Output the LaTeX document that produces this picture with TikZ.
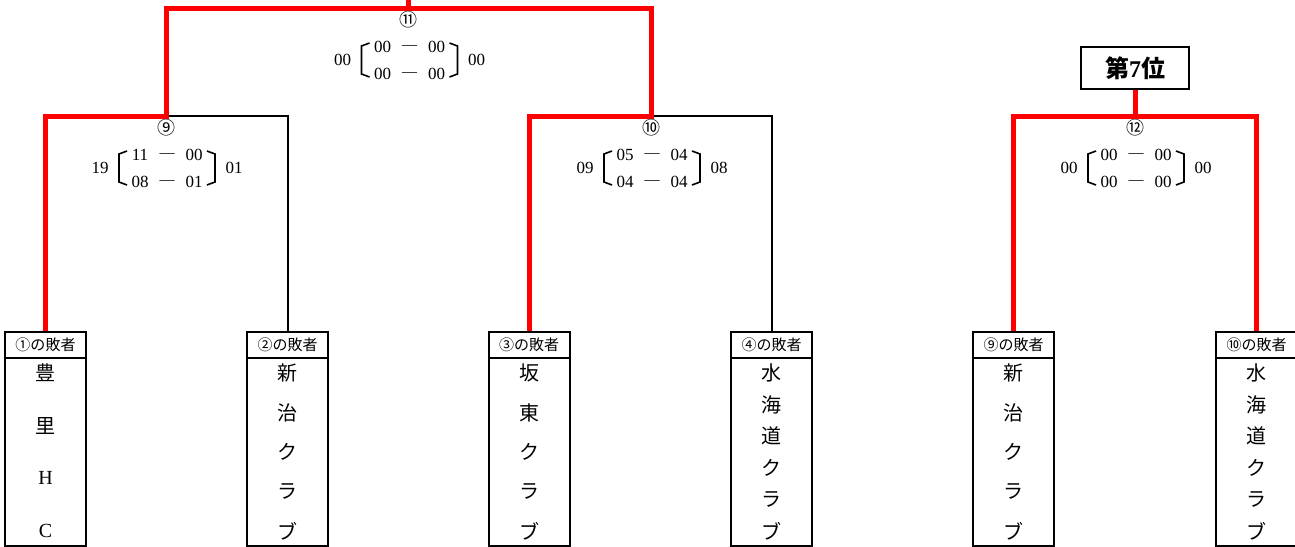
\documentclass[tikz,border=0pt]{standalone}
\usepackage{fontspec}
\setmainfont{Liberation Serif}
\newfontfamily\cjk{Noto Sans CJK JP}
\tikzset{
  redline/.style={line width=5pt, draw={rgb,255:red,255;green,0;blue,0}},
  blkline/.style={line width=2pt, draw=black},
  boxh/.style={draw, line width=2pt, minimum width=81pt, minimum height=26pt, inner sep=0pt, anchor=north, font=\cjk\fontsize{15}{15}\selectfont},
  boxb/.style={draw, line width=2pt, minimum width=81pt, minimum height=188pt, inner sep=0pt, anchor=north},
  namech/.style={inner sep=0pt, font=\cjk\fontsize{20}{20}\selectfont},
  circ/.style={inner sep=0pt, font=\cjk\fontsize{18}{18}\selectfont},
  num/.style={inner sep=0pt, font=\fontsize{17}{17}\selectfont},
  dsh/.style={inner sep=0pt, font=\fontsize{15}{15}\selectfont},
  brk/.style={line width=1.6pt, line join=miter},
  rankbox/.style={draw, line width=2pt, minimum width=108pt, minimum height=42pt, inner sep=0pt, font=\cjk\bfseries\fontsize{24}{24}\selectfont},
}
\newcommand\scorehead[6]{%
  \node[circ] (#1c) at (#2,#3+12) {#4};
  \node[num] (#1L) at (#2-66,#3+52) {#5};
  \node[num] (#1R) at (#2+68,#3+52) {#6};
  \draw[brk] (#2-39,#3+35) -- (#2-47,#3+38) -- (#2-47,#3+66) -- (#2-39,#3+69);
  \draw[brk] (#2+41,#3+35) -- (#2+49,#3+38) -- (#2+49,#3+66) -- (#2+41,#3+69);
}
\newcommand\scorerows[7]{%
  \node[num] (#1a1) at (#2-26,#3+39) {#4};
  \node[dsh] (#1d1) at (#2+1,#3+40) {\textemdash};
  \node[num] (#1b1) at (#2+28,#3+39) {#5};
  \node[num] (#1a2) at (#2-26,#3+66) {#6};
  \node[dsh] (#1d2) at (#2+1,#3+67) {\textemdash};
  \node[num] (#1b2) at (#2+28,#3+66) {#7};
}
\newcommand\team[5]{% prefix, cx, header, count, list
  \node[boxh] (#1h) at (#2,331) {#3};
  \node[boxb] (#1b) at (#2,357) {};
  \foreach \c [count=\i] in {#5} {\node[namech] (#1n\i) at (#2,{373+(\i-1)*158/(#4-1)}) {\c};}
}
\begin{document}
\begin{tikzpicture}[x=1pt,y=-1pt]
\useasboundingbox (0,0) rectangle (1295,546);
% teams
\team{t1}{45.5}{①の敗者}{4}{豊,里,{\rmfamily H},{\rmfamily C}}
\team{t2}{287.5}{②の敗者}{5}{新,治,ク,ラ,ブ}
\team{t3}{529}{③の敗者}{5}{坂,東,ク,ラ,ブ}
\team{t4}{771.5}{④の敗者}{6}{水,海,道,ク,ラ,ブ}
\team{t5}{1013.5}{⑨の敗者}{5}{新,治,ク,ラ,ブ}
\team{t6}{1256.5}{⑩の敗者}{6}{水,海,道,ク,ラ,ブ}
% junction coordinates
\coordinate (j9) at (166,116);
\coordinate (j10) at (651,116);
\coordinate (k11L) at (166,8);
\coordinate (k11R) at (651,8);
\coordinate (m11) at (408.5,8);
\coordinate (top11) at (408.5,0);
\coordinate (m12) at (1135,116);
% black lines
\draw[blkline] (j9) -| (t2h.north);
\draw[blkline] (j10) -| (t4h.north);
% red lines
\draw[redline] (t1h.north) |- (j9) -- (k11L) -- (k11R) -- (j10) -| (t3h.north);
\draw[redline] (top11) -- (m11);
\node[rankbox, fill=white] (rank) at (1135,68) {第\rmfamily 7\cjk 位};
\draw[redline] (rank.south) -- (m12);
\draw[redline] (t5h.north) |- (m12) -| (t6h.north);
% scores
\scorehead{s9}{166}{116}{⑨}{19}{01}
\scorerows{s9}{166}{116}{11}{00}{08}{01}
\scorehead{s10}{651}{116}{⑩}{09}{08}
\scorerows{s10}{651}{116}{05}{04}{04}{04}
\scorehead{s11}{408.5}{8}{⑪}{00}{00}
\scorerows{s11}{408.5}{8}{00}{00}{00}{00}
\scorehead{s12}{1135}{116}{⑫}{00}{00}
\scorerows{s12}{1135}{116}{00}{00}{00}{00}
\end{tikzpicture}
\end{document}
